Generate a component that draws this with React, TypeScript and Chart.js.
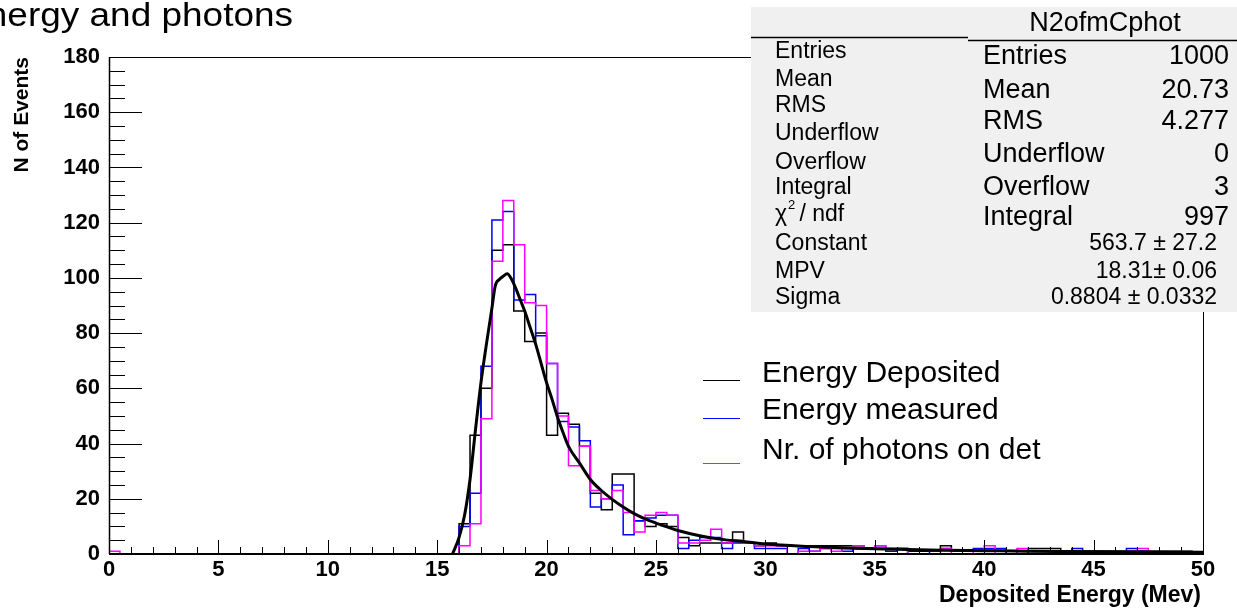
import { useEffect, useRef } from "react";
import { Chart, registerables } from "chart.js";

Chart.register(...registerables);

const FONT = '"Liberation Sans", Arial, Helvetica, sans-serif';

// ---- axes ----
const binWidth = 0.5;
const xMin = 0;
const xMax = 50;
const yMin = 0;
const yMax = 180;
const xMajorStep = 5;
const xMinorStep = 1;
const yMajorStep = 20;
const yMinorStep = 5;

// ---- histogram bin contents (100 bins of 0.5 from 0 to 50) ----
const energyDeposited = [
  0, 0, 0, 0, 0, 0, 0, 0, 0, 0,
  0, 0, 0, 0, 0, 0, 0, 0, 0, 0,
  0, 0, 0, 0, 0, 0, 0, 0, 0, 0,
  0, 0, 11, 43, 60, 110, 112, 88, 77, 80,
  43, 51, 47, 39, 22, 16, 29, 29, 12, 10,
  11, 10, 6, 3, 4, 4, 4, 8, 4, 3,
  4, 3, 3, 3, 3, 3, 3, 3, 3, 2,
  2, 2, 2, 1, 1, 1, 3, 1, 1, 1,
  1, 1, 1, 1, 2, 2, 2, 1, 1, 1,
  1, 1, 1, 1, 1, 1, 1, 1, 1, 0,
];

const energyMeasured = [
  0, 0, 0, 0, 0, 0, 0, 0, 0, 0,
  0, 0, 0, 0, 0, 0, 0, 0, 0, 0,
  0, 0, 0, 0, 0, 0, 0, 0, 0, 0,
  0, 0, 10, 22, 68, 121, 124, 92, 94, 79,
  69, 48, 46, 41, 17, 20, 25, 7, 12, 13,
  14, 14, 2, 5, 6, 6, 2, 4, 4, 2,
  2, 2, 0, 2, 1, 2, 2, 1, 2, 2,
  3, 1, 2, 0, 0, 1, 2, 1, 1, 2,
  2, 2, 0, 1, 0, 0, 0, 0, 2, 0,
  0, 0, 0, 2, 1, 0, 0, 0, 0, 0,
];

const photonsOnDet = [
  1, 0, 0, 0, 0, 0, 0, 0, 0, 0,
  0, 0, 0, 0, 0, 0, 0, 0, 0, 0,
  0, 0, 0, 0, 0, 0, 0, 0, 0, 0,
  0, 0, 3, 11, 49, 106, 128, 112, 91, 90,
  69, 50, 32, 39, 23, 20, 23, 15, 8, 14,
  15, 14, 4, 4, 5, 9, 4, 5, 4, 3,
  3, 3, 0, 1, 1, 2, 1, 2, 3, 2,
  3, 2, 2, 0, 0, 0, 2, 0, 0, 1,
  3, 0, 0, 2, 0, 0, 0, 0, 1, 0,
  0, 0, 0, 1, 2, 0, 0, 0, 0, 0,
];

// ---- Landau fit curve ----
const fitX = [
  15.7, 16.0, 16.25, 16.5, 16.75, 17.0, 17.25, 17.5, 17.65, 17.85,
  18.0, 18.2, 18.4, 18.6, 18.8, 19.0, 19.25, 19.5, 19.75, 20.0,
  20.25, 20.5, 20.75, 21.0, 21.5, 22.0, 22.5, 23.0, 23.5, 24.0,
  24.5, 25.0, 25.5, 26.0, 27.0, 28.0, 29.0, 30.0, 32.0, 34.0,
  36.0, 38.0, 40.0, 42.0, 44.0, 46.0, 48.0, 50.0,
];
const fitY = [
  0, 6, 14, 27, 45, 62, 76, 89, 97, 99.5,
  100.5, 101.5, 99.5, 96, 92, 88, 82, 76, 69, 62,
  56, 49.5, 44, 39, 33, 27, 23, 19.8, 17, 14.6,
  12.7, 11.2, 9.8, 8.5, 6.6, 5.3, 4.5, 3.6, 2.7, 2.1,
  1.7, 1.4, 1.2, 1.0, 0.9, 0.8, 0.7, 0.6,
];

// ---- texts ----
const titleText = "Energy and photons";
const xTitle = "Deposited Energy (Mev)";
const yTitle = "N of Events";
const seriesLabels = ["Energy Deposited", "Energy measured", "Nr. of photons on det"];
const seriesColors = ["#000000", "#0000ff", "#ff00ff"];

const statsTitle = "N2ofmCphot";
const statsLabels = ["Entries", "Mean", "RMS", "Underflow", "Overflow", "Integral"];
const statsValues = ["1000", "20.73", "4.277", "0", "3", "997"];
const fitStatsLabels = ["Entries", "Mean", "RMS", "Underflow", "Overflow", "Integral", "χ2 / ndf", "Constant", "MPV", "Sigma"];
const fitParamValues = ["563.7 ± 27.2", "18.31± 0.06", "0.8804 ± 0.0332"];

function histPoints(values: number[]) {
  const pts: { x: number; y: number }[] = [{ x: xMin, y: 0 }];
  values.forEach((v, i) => pts.push({ x: xMin + i * binWidth, y: v }));
  pts.push({ x: xMax, y: values[values.length - 1] });
  return pts;
}

const decorPlugin = {
  id: "rootDecor",
  afterDraw(chart: any) {
    const { ctx, chartArea: a } = chart;
    const xs = chart.scales.x;
    const ys = chart.scales.y;
    ctx.save();
    ctx.strokeStyle = "#000";
    ctx.fillStyle = "#000";

    // inward ticks
    ctx.lineWidth = 1;
    ctx.beginPath();
    for (let v = yMin; v <= yMax; v += yMinorStep) {
      const py = Math.round(ys.getPixelForValue(v)) + 0.5;
      const len = v % yMajorStep === 0 ? 33 : 16;
      ctx.moveTo(a.left, py);
      ctx.lineTo(a.left + len, py);
    }
    for (let v = xMin; v <= xMax; v += xMinorStep) {
      const px = Math.round(xs.getPixelForValue(v)) + 0.5;
      const len = v % xMajorStep === 0 ? 14 : 7;
      ctx.moveTo(px, a.bottom);
      ctx.lineTo(px, a.bottom - len);
    }
    ctx.stroke();

    // frame
    ctx.lineWidth = 1;
    ctx.strokeRect(a.left + 0.5, a.top + 0.5, a.right - a.left, a.bottom - a.top);
    ctx.lineWidth = 2;
    ctx.beginPath();
    ctx.moveTo(a.left, a.bottom);
    ctx.lineTo(a.right + 1, a.bottom);
    ctx.stroke();
    ctx.lineWidth = 1.5;
    ctx.beginPath();
    ctx.moveTo(a.left + 0.5, a.top);
    ctx.lineTo(a.left + 0.5, a.bottom);
    ctx.stroke();

    // title (wide Helvetica-like rendering)
    ctx.save();
    ctx.translate(293, 26);
    ctx.scale(1.12, 1);
    ctx.font = `33px ${FONT}`;
    ctx.textAlign = "right";
    ctx.textBaseline = "alphabetic";
    ctx.fillText(titleText, 0, 0);
    ctx.restore();

    // axis titles
    ctx.font = `bold 23px ${FONT}`;
    ctx.textAlign = "right";
    ctx.textBaseline = "middle";
    ctx.fillText(xTitle, a.right - 2, 596);
    ctx.save();
    ctx.translate(22, a.top);
    ctx.rotate(-Math.PI / 2);
    ctx.font = `bold 21px ${FONT}`;
    ctx.textAlign = "right";
    ctx.fillText(yTitle, 0, 0);
    ctx.restore();

    // legend
    const legLineY = [380, 418, 463];
    const legTextY = [374, 411, 451];
    ctx.font = `30px ${FONT}`;
    ctx.textAlign = "left";
    ctx.textBaseline = "middle";
    seriesLabels.forEach((lab, i) => {
      ctx.strokeStyle = seriesColors[i];
      ctx.lineWidth = 1;
      ctx.beginPath();
      ctx.moveTo(703, legLineY[i] + 0.5);
      ctx.lineTo(740, legLineY[i] + 0.5);
      ctx.stroke();
      ctx.fillStyle = "#000";
      ctx.fillText(lab, 762, legTextY[i]);
    });

    // stats box
    ctx.fillStyle = "#f0f0f0";
    ctx.fillRect(751, 7, 1237 - 751, 305);
    ctx.strokeStyle = "#000";
    ctx.lineWidth = 1.5;
    ctx.beginPath();
    ctx.moveTo(751, 37.5);
    ctx.lineTo(968, 37.5);
    ctx.moveTo(968, 40.5);
    ctx.lineTo(1237, 40.5);
    ctx.stroke();

    ctx.fillStyle = "#000";
    ctx.textBaseline = "middle";
    // left (fit) stats
    const leftY = [52, 80, 106, 134, 163, 188, 215, 244, 272, 298];
    ctx.font = `23px ${FONT}`;
    ctx.textAlign = "left";
    fitStatsLabels.forEach((lab, i) => {
      if (lab.startsWith("χ2")) {
        ctx.font = `23px ${FONT}`;
        ctx.fillText("χ", 775, leftY[i]);
        const w = ctx.measureText("χ").width;
        ctx.font = `13px ${FONT}`;
        ctx.fillText("2", 775 + w + 1, leftY[i] - 10);
        ctx.font = `23px ${FONT}`;
        ctx.fillText(lab.slice(2), 775 + w + 6, leftY[i]);
      } else {
        ctx.fillText(lab, 775, leftY[i]);
      }
    });
    ctx.textAlign = "right";
    fitParamValues.forEach((val, i) => {
      ctx.fillText(val, 1217, leftY[7 + i]);
    });

    // right (N2ofmCphot) stats
    ctx.font = `27px ${FONT}`;
    ctx.textAlign = "center";
    ctx.fillText(statsTitle, 1105, 24);
    const rightY = [57, 91, 122, 155, 188, 218];
    statsLabels.forEach((lab, i) => {
      ctx.textAlign = "left";
      ctx.fillText(lab, 983, rightY[i]);
      ctx.textAlign = "right";
      ctx.fillText(statsValues[i], 1229, rightY[i]);
    });

    ctx.restore();
  },
};

export default function App() {
  const canvasRef = useRef<HTMLCanvasElement | null>(null);

  useEffect(() => {
    const canvas = canvasRef.current;
    if (!canvas) return;
    const histStyle = (color: string) => ({
      borderColor: color,
      backgroundColor: color,
      borderWidth: 1.5,
      pointRadius: 0,
      stepped: true as const,
      fill: false,
    });
    const chart = new Chart(canvas, {
      type: "line",
      data: {
        datasets: [
          {
            label: seriesLabels[0],
            data: histPoints(energyDeposited),
            order: 4,
            ...histStyle(seriesColors[0]),
          },
          {
            label: seriesLabels[1],
            data: histPoints(energyMeasured),
            order: 3,
            ...histStyle(seriesColors[1]),
          },
          {
            label: seriesLabels[2],
            data: histPoints(photonsOnDet),
            order: 2,
            ...histStyle(seriesColors[2]),
          },
          {
            label: "Landau fit",
            data: fitX.map((x, i) => ({ x, y: fitY[i] })),
            order: 1,
            borderColor: "#000",
            borderWidth: 3,
            pointRadius: 0,
            cubicInterpolationMode: "monotone",
            fill: false,
          },
        ],
      },
      options: {
        animation: false,
        responsive: false,
        devicePixelRatio: 1,
        layout: { padding: { top: 57, right: 34, left: 0, bottom: 0 } },
        plugins: {
          legend: { display: false },
          tooltip: { enabled: false },
          title: { display: false },
        },
        scales: {
          x: {
            type: "linear",
            min: xMin,
            max: xMax,
            grid: { display: false, drawTicks: false },
            border: { display: false },
            ticks: {
              stepSize: xMajorStep,
              autoSkip: false,
              maxRotation: 0,
              padding: 3,
              color: "#000",
              font: { family: FONT, weight: "bold", size: 22 },
            },
            afterFit: (s: any) => {
              s.height = 56;
            },
          },
          y: {
            type: "linear",
            min: yMin,
            max: yMax,
            grid: { display: false, drawTicks: false },
            border: { display: false },
            ticks: {
              stepSize: yMajorStep,
              padding: 9,
              color: "#000",
              font: { family: FONT, weight: "bold", size: 22 },
            },
            afterFit: (s: any) => {
              s.width = 109;
            },
          },
        },
      } as any,
      plugins: [decorPlugin],
    });
    return () => chart.destroy();
  }, []);

  return (
    <div style={{ position: "fixed", left: 0, top: 0, width: 1237, height: 610, background: "#fff" }}>
      <canvas ref={canvasRef} width={1237} height={610} style={{ width: 1237, height: 610, display: "block" }} />
    </div>
  );
}
